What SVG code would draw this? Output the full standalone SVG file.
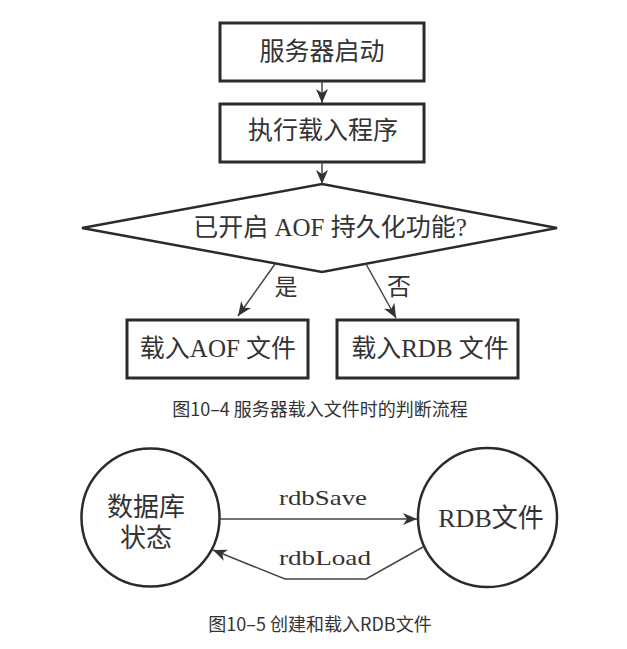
<svg xmlns="http://www.w3.org/2000/svg" width="627" height="649" viewBox="0 0 627 649">
<style>
  .box { fill: #fff; stroke: #2b2b2b; stroke-width: 3; }
  .shape { fill: #fff; stroke: #2b2b2b; stroke-width: 2.5; }
  .conn { fill: none; stroke: #444; stroke-width: 1.5; }
  .t { font-family: "Liberation Serif", "Noto Sans CJK SC", serif; font-size: 25px; fill: #333; text-anchor: middle; }
  .cap { font-family: "Noto Sans CJK SC", "Noto Sans", sans-serif; font-size: 18px; fill: #333; text-anchor: middle; }
  .lbl { font-family: "Liberation Serif", "Noto Sans CJK SC", serif; font-size: 22px; fill: #333; text-anchor: middle; }
</style>
<defs>
  <marker id="arr" markerUnits="userSpaceOnUse" markerWidth="14" markerHeight="12" viewBox="0 0 14 12" refX="14" refY="6" orient="auto">
    <path d="M0,0 L14,6 L0,12 L4,6 z" fill="#333"/>
  </marker>
</defs>
<rect width="627" height="649" fill="#fff"/>

<g id="n-start">
  <rect class="box" x="220" y="23" width="204" height="58"/>
  <text class="t" x="322" y="60">服务器启动</text>
</g>
<g id="n-exec">
  <rect class="box" x="220" y="104" width="204" height="58"/>
  <text class="t" x="323" y="139">执行载入程序</text>
</g>
<g id="n-decide">
  <polygon class="shape" points="322,184 557,228 322,272 82,228"/>
  <text class="t" x="330" y="236">已开启 AOF 持久化功能?</text>
</g>
<g id="n-aof">
  <rect class="box" x="127" y="320" width="181" height="58"/>
  <text class="t" x="218" y="357">载入AOF 文件</text>
</g>
<g id="n-rdb">
  <rect class="box" x="337" y="320" width="181" height="58"/>
  <text class="t" x="430" y="357">载入RDB 文件</text>
</g>
<g id="caption1">
  <text class="cap" x="320" y="416">图10–4 服务器载入文件时的判断流程</text>
</g>

<g id="n-db">
  <circle class="shape" cx="150.5" cy="517.5" r="69"/>
  <text class="t" style="font-size:26px" x="146" y="516">数据库</text>
  <text class="t" style="font-size:26px" x="146" y="547">状态</text>
</g>
<g id="n-rdbfile">
  <circle class="shape" cx="487.5" cy="517.5" r="69.5"/>
  <text class="t" style="font-size:26px" x="491" y="527">RDB文件</text>
</g>
<g id="caption2">
  <text class="cap" x="320" y="631">图10–5 创建和载入RDB文件</text>
</g>

<g id="connectors">
  <line class="conn" x1="322" y1="81" x2="322" y2="103" marker-end="url(#arr)"/>
  <line class="conn" x1="322" y1="162" x2="322" y2="184" marker-end="url(#arr)"/>
  <line class="conn" x1="275" y1="264" x2="238" y2="316" marker-end="url(#arr)"/>
  <line class="conn" x1="366" y1="264" x2="396" y2="318" marker-end="url(#arr)"/>
  <text class="t" style="font-size:23px" x="286" y="295">是</text>
  <text class="t" style="font-size:24px" x="399" y="295">否</text>
  <line class="conn" x1="220" y1="519" x2="417" y2="519" marker-end="url(#arr)"/>
  <polyline class="conn" points="423,547 366,579 285,579 213,550" marker-end="url(#arr)"/>
  <text class="lbl" x="323" y="505" textLength="88" lengthAdjust="spacingAndGlyphs">rdbSave</text>
  <text class="lbl" x="325" y="565" textLength="92" lengthAdjust="spacingAndGlyphs">rdbLoad</text>
</g>
</svg>
